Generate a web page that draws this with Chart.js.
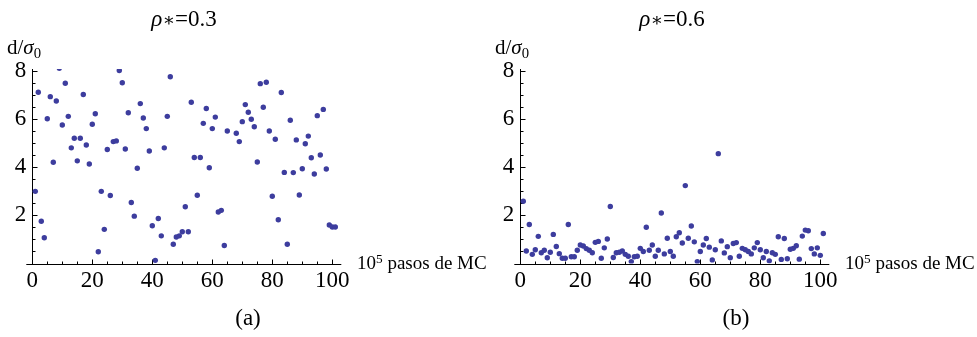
<!DOCTYPE html>
<html><head><meta charset="utf-8">
<script src="https://cdn.jsdelivr.net/npm/chart.js@4.4.1/dist/chart.umd.min.js"></script>
<style>
html,body{margin:0;padding:0;background:#fff;width:977px;height:337px;overflow:hidden;}
.panel{position:absolute;top:0;width:488px;height:337px;}
.panel canvas{position:absolute;left:0;top:0;}
.txt{position:absolute;font-family:"Liberation Serif","Times New Roman",serif;color:#000;white-space:nowrap;line-height:1;}
.title{font-size:23px;top:7px;left:184px;transform:translateX(-50%);}
.ylab{font-size:21px;top:37px;left:7px;}
.xlab{font-size:19px;top:253px;left:357px;}
.cap{font-size:23px;top:306px;left:248px;transform:translateX(-50%);}
.sub{font-size:70%;position:relative;top:0.3em;}
.sup{font-size:70%;position:relative;top:-0.45em;}
.ast{font-family:"DejaVu Serif",serif;font-size:80%;}
</style></head><body>

<div class="panel" style="left:0">
  <canvas id="ca" width="488" height="337"></canvas>
  <div class="txt title"><i>ρ</i><span class="ast">∗</span>=0.3</div>
  <div class="txt ylab">d/<i>σ</i><span class="sub">0</span></div>
  <div class="txt xlab">10<span class="sup">5</span> pasos de MC</div>
  <div class="txt cap">(a)</div>
</div>
<div class="panel" style="left:488px">
  <canvas id="cb" width="488" height="337"></canvas>
  <div class="txt title"><i>ρ</i><span class="ast">∗</span>=0.6</div>
  <div class="txt ylab">d/<i>σ</i><span class="sub">0</span></div>
  <div class="txt xlab">10<span class="sup">5</span> pasos de MC</div>
  <div class="txt cap">(b)</div>
</div>

<script>
// d/sigma0 per MC step (x = 1..101), rho* = 0.3 ; steps 66 and 67 lie above the plot range
const dRho03 = [
  3.00, 7.12, 1.76, 1.07, 6.02, 6.94, 4.21, 6.76, 8.12, 5.76,
  7.50, 6.12, 4.81, 5.21, 4.27, 5.21, 7.03, 4.93, 4.14, 5.79,
  6.23, 0.49, 3.00, 1.42, 4.74, 2.83, 5.07, 5.10, 8.03, 7.52,
  4.76, 6.27, 2.54, 1.97, 3.96, 6.65, 6.05, 5.61, 4.68, 1.57,
  0.13, 1.87, 1.15, 4.81, 6.12, 7.77, 0.80, 1.10, 1.15, 1.32,
  2.36, 1.32, 6.71, 4.41, 2.84, 4.41, 5.83, 6.45, 3.98, 5.61,
  6.09, 2.14, 2.21, 0.75, 5.51, 8.60, 8.40, 5.42, 5.07, 5.90,
  6.61, 6.29, 6.00, 5.69, 4.22, 7.48, 6.50, 7.54, 5.51, 2.80,
  5.17, 1.82, 7.11, 3.79, 0.80, 5.96, 3.78, 5.14, 2.85, 3.94,
  4.98, 5.30, 4.40, 3.72, 6.15, 4.51, 6.41, 3.93, 1.60, 1.52,
  1.52
];
// rho* = 0.6
const dRho06 = [
  2.59, 0.52, 1.62, 0.38, 0.57, 1.13, 0.45, 0.55, 0.24, 0.47,
  1.21, 0.71, 0.41, 0.22, 0.22, 1.62, 0.28, 0.28, 0.55, 0.77,
  0.73, 0.62, 0.55, 0.45, 0.88, 0.92, 0.22, 0.65, 1.02, 2.37,
  0.25, 0.45, 0.47, 0.52, 0.38, 0.30, 0.08, 0.28, 0.30, 0.63,
  0.50, 1.51, 0.55, 0.77, 0.30, 0.55, 2.10, 0.40, 1.05, 0.50,
  0.30, 1.11, 1.28, 0.85, 3.24, 1.05, 1.56, 0.90, 0.08, 0.50,
  0.77, 1.04, 0.68, 0.15, 0.57, 4.57, 0.94, 0.44, 0.70, 0.24,
  0.83, 0.87, 0.30, 0.63, 0.57, 0.50, 0.40, 0.65, 0.87, 0.57,
  0.24, 0.50, 0.11, 0.45, 0.38, 1.11, 0.17, 1.04, 0.20, 0.59,
  0.63, 0.74, 0.18, 1.14, 1.39, 1.36, 0.62, 0.40, 0.65, 0.34,
  1.25
];
const xTickLabels = [0, 20, 40, 60, 80, 100];
const yTickLabels = [2, 4, 6, 8];

const X_MINOR = 5, Y_MINOR = 0.5;
const POINT_COLOR = '#3d3d9e';

const mmaAxes = {
  id: 'mmaAxes',
  beforeDatasetsDraw(chart) {
    const {ctx, scales: {x, y}} = chart;
    const x0 = Math.round(x.getPixelForValue(0)) + 0.5;
    const y0 = Math.round(y.getPixelForValue(0)) + 0.5;
    ctx.save();
    ctx.strokeStyle = '#000';
    ctx.lineWidth = 1;
    ctx.beginPath();
    ctx.moveTo(x.left, y0); ctx.lineTo(x.right, y0);
    ctx.moveTo(x0, y0); ctx.lineTo(x0, y.top);
    for (let v = 0; v <= x.max + 1e-9; v += X_MINOR) {
      const px = Math.round(x.getPixelForValue(v)) + 0.5;
      const len = xTickLabels.includes(v) ? 5 : 3;
      ctx.moveTo(px, y0); ctx.lineTo(px, y0 - len);
    }
    for (let v = Y_MINOR; v <= y.max + 1e-9; v += Y_MINOR) {
      const py = Math.round(y.getPixelForValue(v)) + 0.5;
      const len = yTickLabels.includes(Math.round(v * 100) / 100) ? 5 : 3;
      ctx.moveTo(x0, py); ctx.lineTo(x0 + len, py);
    }
    ctx.stroke();
    ctx.restore();
  }
};

function makeChart(id, values) {
  const pts = values.map((v, i) => ({x: i + 1, y: v}));
  return new Chart(document.getElementById(id), {
    type: 'scatter',
    data: {datasets: [{
      data: pts,
      pointRadius: 2.7,
      pointBackgroundColor: POINT_COLOR,
      pointBorderWidth: 0,
      borderColor: POINT_COLOR,
      clip: 0
    }]},
    options: {
      responsive: false,
      animation: false,
      devicePixelRatio: 1,
      layout: {padding: {left: 0.3, right: 146.7, top: 69, bottom: 43.5}},
      plugins: {legend: {display: false}, tooltip: {enabled: false}},
      scales: {
        x: {
          type: 'linear', min: -2, max: 103,
          border: {display: false},
          grid: {display: false, drawTicks: false},
          afterBuildTicks: s => { s.ticks = xTickLabels.map(v => ({value: v})); },
          afterFit: s => { s.height = 30; },
          ticks: {font: {family: 'Liberation Serif', size: 23}, color: '#000', padding: 4,
                  maxRotation: 0, autoSkip: false}
        },
        y: {
          type: 'linear', min: 0, max: 8.09,
          border: {display: false},
          grid: {display: false, drawTicks: false},
          afterBuildTicks: s => { s.ticks = yTickLabels.map(v => ({value: v})); },
          afterFit: s => { s.width = 26; },
          ticks: {font: {family: 'Liberation Serif', size: 23}, color: '#000', padding: 0}
        }
      }
    },
    plugins: [mmaAxes]
  });
}
makeChart('ca', dRho03);
makeChart('cb', dRho06);
</script>
</body></html>
